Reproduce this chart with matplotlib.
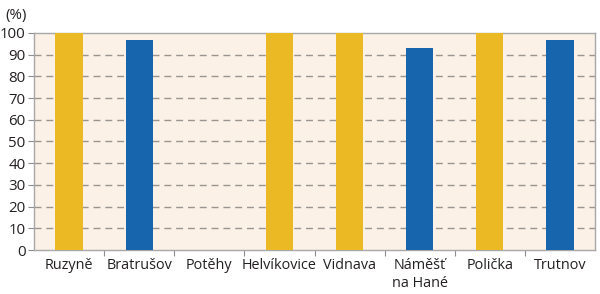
import matplotlib
matplotlib.use("Agg")
import matplotlib.pyplot as plt

categories = ["Ruzyně", "Bratrušov", "Potěhy", "Helvíkovice", "Vidnava", "Náměšť\nna Hané", "Polička", "Trutnov"]
values = [100, 97, 0, 100, 100, 93, 100, 97]
colors = ["#EBB924", "#1765AD", "#1765AD", "#EBB924", "#EBB924", "#1765AD", "#EBB924", "#1765AD"]
yticks = list(range(0, 101, 10))

plt.rcParams['font.family'] = ['Open Sans', 'DejaVu Sans']

fig = plt.figure(figsize=(6.0, 2.94), dpi=100)
ax = fig.add_axes([34/600, 1 - 250/294, (595-34)/600, (250-33)/294])
ax.set_facecolor("#FBF1E6")

x = list(range(len(categories)))
ax.bar(x, values, width=0.39, color=colors, zorder=3)
ax.set_xlim(-0.5, len(categories) - 0.5)
ax.set_ylim(0, 100)
ax.set_yticks(yticks)
ax.set_yticklabels([str(v) for v in yticks], fontsize=10.8, color="#231F20")
for v in yticks[1:-1]:
    ax.axhline(v, color="#9A9590", lw=1.0, dashes=(5, 3.5), zorder=1)

ax.set_xticks([i + 0.5 for i in range(len(categories) - 1)], minor=False)
ax.set_xticklabels([])
ax.set_xticks(x, minor=True)
ax.set_xticklabels(categories, minor=True, fontsize=10.4, color="#231F20", linespacing=1.25, va="top")
ax.tick_params(axis="x", which="minor", length=0, pad=6)
ax.tick_params(axis="x", which="major", length=4, color="#8C8C8C", direction="out")
ax.tick_params(axis="y", length=4, color="#8C8C8C", direction="out", pad=2)

for s in ax.spines.values():
    s.set_color("#A8A8A8")
    s.set_linewidth(1.0)

fig.text(5/600, 1 - 15/294, "(%)", fontsize=10.8, color="#231F20", va="center", ha="left")

fig.savefig("out.png", dpi=100)
